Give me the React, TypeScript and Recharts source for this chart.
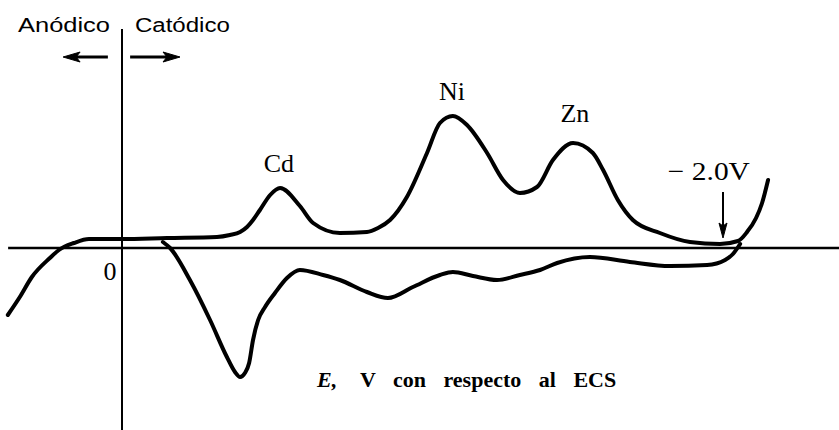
import React from 'react';
import { LineChart, Line, XAxis, YAxis, ReferenceLine, ReferenceDot } from 'recharts';

// Potential E (V vs. SCE) and current (arbitrary units) for the cathodic sweep
const forwardE = [0.38, 0.34, 0.3, 0.24, 0.21, 0.16, 0.11, 0.0, -0.15, -0.316, -0.359, -0.393, -0.416, -0.436, -0.459, -0.493, -0.526, -0.592, -0.636, -0.725, -0.815, -0.852, -0.892, -0.948, -1.015, -1.058, -1.101, -1.148, -1.215, -1.268, -1.324, -1.381, -1.434, -1.501, -1.567, -1.601, -1.65, -1.7, -1.79, -1.89, -1.99, -2.05, -2.08, -2.11, -2.13, -2.15];
const forwardI = [-6.7, -4.9, -2.9, -1.0, -0.2, 0.5, 0.9, 0.9, 1.0, 1.1, 1.3, 1.6, 2.1, 2.8, 3.8, 5.3, 6.0, 4.2, 2.5, 1.5, 1.6, 2.0, 2.8, 5.1, 9.5, 12.5, 13.2, 12.3, 9.5, 6.8, 5.5, 6.1, 8.8, 10.5, 9.5, 7.8, 4.8, 2.8, 1.5, 0.6, 0.4, 0.7, 1.6, 3.0, 4.5, 6.8];

// Return (anodic) sweep
const reverseE = [-0.136, -0.16, -0.226, -0.293, -0.349, -0.376, -0.393, -0.409, -0.423, -0.436, -0.453, -0.476, -0.509, -0.549, -0.592, -0.669, -0.725, -0.815, -0.885, -0.968, -1.058, -1.101, -1.168, -1.248, -1.324, -1.391, -1.448, -1.557, -1.69, -1.824, -1.947, -2.007, -2.033, -2.057];
const reverseI = [0.6, 0.0, -3.2, -7.2, -10.9, -12.4, -12.9, -12.5, -11.5, -9.2, -7.2, -5.9, -4.5, -3.0, -2.2, -2.7, -3.2, -4.4, -5.0, -3.9, -2.7, -2.4, -2.8, -3.2, -2.7, -2.2, -1.5, -0.9, -1.4, -1.8, -1.7, -1.2, -0.6, 0.4];

// Peak labels: text, potential, current at the text baseline
const peakNames = ['Cd', 'Ni', 'Zn'];
const peakE = [-0.522, -1.098, -1.507];
const peakLabelI = [7.6, 14.8, 12.6];

const switchE = -2.0;
const switchLabel = '\u2212 2.0V';
const axisTitleItalic = 'E,';
const axisTitleRest = 'V con respecto al ECS';
const leftLabel = 'Anódico';
const rightLabel = 'Catódico';

const forward = forwardE.map((e, k) => ({ e, i: forwardI[k] }));
const reverse = reverseE.map((e, k) => ({ e, i: reverseI[k] }));

const X_DOMAIN: [number, number] = [-2.386, 0.406];
const Y_DOMAIN: [number, number] = [-18.2, 24.8];

const serif = '"Liberation Serif", "Times New Roman", serif';
const sans = '"Liberation Sans", Arial, sans-serif';

type TextOpts = {
  size: number;
  family: string;
  anchor?: 'start' | 'middle' | 'end';
  weight?: string | number;
  italic?: boolean;
  length?: number;
  wordSpacing?: number;
};

const textShape = (txt: string, o: TextOpts) => (p: any) => (
  <text
    x={p.cx}
    y={p.cy}
    textAnchor={o.anchor || 'middle'}
    fontFamily={o.family}
    fontSize={o.size}
    fontWeight={o.weight || 'normal'}
    fontStyle={o.italic ? 'italic' : 'normal'}
    fill="#000"
    style={o.wordSpacing ? { wordSpacing: `${o.wordSpacing}px` } : undefined}
    textLength={o.length}
    lengthAdjust={o.length ? 'spacingAndGlyphs' : undefined}
  >
    {txt}
  </text>
);

const arrowHead = (dir: 'left' | 'right' | 'down') => (p: any) => {
  const { cx, cy } = p;
  let pts = '';
  if (dir === 'left') pts = `${cx},${cy} ${cx + 17},${cy - 5} ${cx + 13},${cy} ${cx + 17},${cy + 5}`;
  if (dir === 'right') pts = `${cx},${cy} ${cx - 17},${cy - 5} ${cx - 13},${cy} ${cx - 17},${cy + 5}`;
  if (dir === 'down') pts = `${cx},${cy} ${cx - 4},${cy - 15} ${cx},${cy - 12} ${cx + 4},${cy - 15}`;
  return <polygon points={pts} fill="#000" stroke="#000" strokeWidth={1} strokeLinejoin="round" />;
};

export default function App() {
  return (
    <div style={{ position: 'absolute', left: 0, top: 0, width: 839, height: 430, background: '#fff' }}>
      <LineChart width={839} height={430} margin={{ top: 0, right: 0, bottom: 0, left: 0 }}>
        <XAxis type="number" dataKey="e" domain={X_DOMAIN} reversed hide allowDataOverflow />
        <YAxis type="number" dataKey="i" domain={Y_DOMAIN} hide allowDataOverflow />

        {/* current = 0 baseline and E = 0 axis */}
        <ReferenceLine
          segment={[{ x: 0.379, y: 0 }, { x: -2.386, y: 0 }]}
          stroke="#000"
          strokeWidth={2.5}
        />
        <ReferenceLine
          segment={[{ x: 0, y: 21.9 }, { x: 0, y: -18.2 }]}
          stroke="#000"
          strokeWidth={2}
        />

        <Line
          data={forward}
          dataKey="i"
          type="monotone"
          stroke="#000"
          strokeWidth={4}
          strokeLinecap="round"
          dot={false}
          activeDot={false}
          isAnimationActive={false}
        />
        <Line
          data={reverse}
          dataKey="i"
          type="monotone"
          stroke="#000"
          strokeWidth={4}
          strokeLinecap="round"
          dot={false}
          activeDot={false}
          isAnimationActive={false}
        />

        {/* sweep-direction arrows */}
        <ReferenceLine segment={[{ x: 0.15, y: 19.1 }, { x: 0.047, y: 19.1 }]} stroke="#000" strokeWidth={3} />
        <ReferenceDot x={0.196} y={19.1} r={0} shape={arrowHead('left')} />
        <ReferenceLine segment={[{ x: -0.027, y: 19.1 }, { x: -0.15, y: 19.1 }]} stroke="#000" strokeWidth={3} />
        <ReferenceDot x={-0.193} y={19.1} r={0} shape={arrowHead('right')} />

        {/* switching potential marker */}
        <ReferenceLine segment={[{ x: switchE, y: 5.6 }, { x: switchE, y: 2.0 }]} stroke="#000" strokeWidth={2} />
        <ReferenceDot x={switchE} y={1.0} r={0} shape={arrowHead('down')} />
        <ReferenceDot x={-1.953} y={6.8} r={0} shape={textShape(switchLabel, { size: 26, family: serif, length: 82 })} />

        {peakNames.map((n, k) => (
          <ReferenceDot key={n} x={peakE[k]} y={peakLabelI[k]} r={0} shape={textShape(n, { size: 26, family: serif })} />
        ))}

        <ReferenceDot x={0.04} y={-3.2} r={0} shape={textShape('0', { size: 26, family: serif })} />

        <ReferenceDot x={0.193} y={21.6} r={0} shape={textShape(leftLabel, { size: 20, family: sans, length: 92 })} />
        <ReferenceDot x={-0.201} y={21.6} r={0} shape={textShape(rightLabel, { size: 20, family: sans, length: 95 })} />

        <ReferenceDot
          x={-0.649}
          y={-13.9}
          r={0}
          shape={textShape(axisTitleItalic, { size: 22, family: serif, anchor: 'start', weight: 'bold', italic: true })}
        />
        <ReferenceDot
          x={-0.792}
          y={-13.9}
          r={0}
          shape={textShape(axisTitleRest, { size: 22, family: serif, anchor: 'start', weight: 'bold', wordSpacing: 12 })}
        />
      </LineChart>
    </div>
  );
}
